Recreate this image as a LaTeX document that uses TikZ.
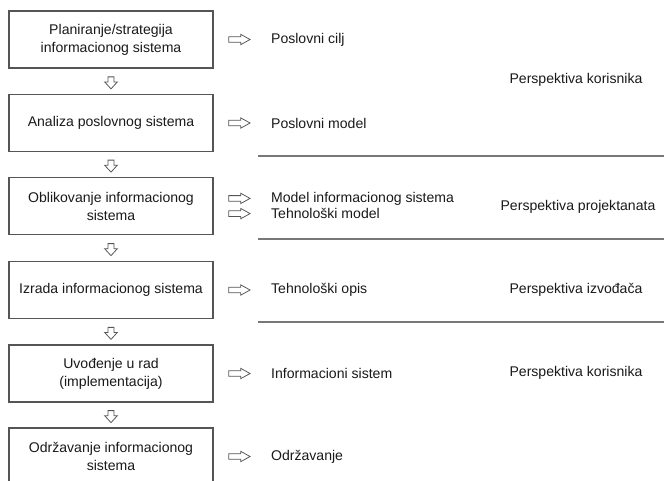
\documentclass[tikz,border=0pt]{standalone}
\usepackage{fontspec}
\setmainfont{Liberation Sans}
\usetikzlibrary{shapes.arrows,calc,positioning}
\definecolor{okvir}{RGB}{85,85,85}
\definecolor{granica}{RGB}{120,120,120}
\definecolor{tekst}{RGB}{25,25,25}
\tikzset{
  every node/.style={font=\fontsize{10}{12.8}\selectfont,text=tekst},
  faza/.style={draw=okvir,line width=0.9pt,minimum width=5.1cm,minimum height=1.42cm,align=center,inner sep=0pt},
  desno/.style={single arrow,draw=okvir,line width=0.55pt,minimum height=0.53cm,minimum width=0.24cm,
    inner xsep=0pt,inner ysep=0.06cm,single arrow head extend=0.06cm,single arrow tip angle=58},
  dolje/.style={desno,rotate=-90,minimum height=0.3cm,minimum width=0.3cm,inner ysep=0.065cm,
    single arrow head extend=0.085cm,single arrow tip angle=85},
  rez/.style={inner sep=0pt,anchor=west},
  persp/.style={inner sep=0pt},
  crta/.style={draw=granica,line width=1.2pt}
}
\begin{document}
\begin{tikzpicture}[x=0.025cm,y=-0.025cm]
\useasboundingbox (0,0) rectangle (664,480);
%% faze
\node[faza] (b1) at (111,39.5) {Planiranje/strategija\\informacionog sistema};
\node[faza] (b2) at (111,123) {Analiza poslovnog sistema};
\node[faza] (b3) at (111,206) {Oblikovanje informacionog\\sistema};
\node[faza] (b4) at (111,290) {Izrada informacionog sistema};
\node[faza] (b5) at (111,373.5) {Uvođenje u rad\\(implementacija)};
\node[faza] (b6) at (111,456.5) {Održavanje informacionog\\sistema};

\foreach \i/\j in {1/2,2/3,3/4,4/5,5/6}
  \node[dolje] (d\i) at ($(b\i.south)!0.5!(b\j.north)$) {};

%% rezultati
\node[desno,right=0.37cm of b1] (s1) {};
\node[rez,right=0.5cm of s1] (r1) {Poslovni cilj};
\node[desno,right=0.37cm of b2] (s2) {};
\node[rez,right=0.5cm of s2] (r2) {Poslovni model};
\node[desno,right=0.37cm of b3,yshift=0.19cm] (s3a) {};
\node[rez,right=0.5cm of s3a] (r3a) {Model informacionog sistema};
\node[desno,right=0.37cm of b3,yshift=-0.19cm] (s3b) {};
\node[rez,right=0.5cm of s3b] (r3b) {Tehnološki model};
\node[desno,right=0.37cm of b4] (s4) {};
\node[rez,right=0.5cm of s4] (r4) {Tehnološki opis};
\node[desno,right=0.37cm of b5] (s5) {};
\node[rez,right=0.5cm of s5] (r5) {Informacioni sistem};
\node[desno,right=0.37cm of b6] (s6) {};
\node[rez,right=0.5cm of s6] (r6) {Održavanje};

%% perspektive
\node[persp] (p1) at (576,80) {Perspektiva korisnika};
\node[persp] (p2) at (578,207) {Perspektiva projektanata};
\node[persp] (p3) at (576,290) {Perspektiva izvođača};
\node[persp] (p4) at (576,373) {Perspektiva korisnika};

\foreach \y in {156,239,322}
  \draw[crta] (258,\y) -- (664,\y);
\end{tikzpicture}
\end{document}
